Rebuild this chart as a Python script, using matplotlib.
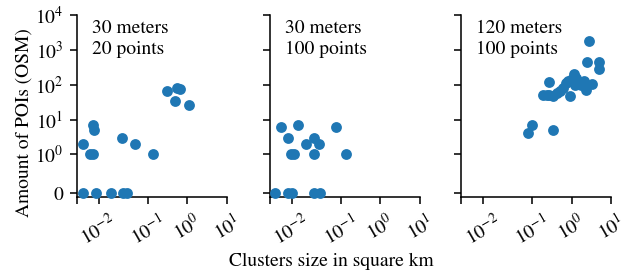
import matplotlib
matplotlib.use("Agg")
import matplotlib.pyplot as plt

plt.rcParams['font.family'] = ['STIXGeneral', 'Liberation Serif', 'DejaVu Serif']
plt.rcParams['mathtext.fontset'] = 'stix'
plt.rcParams['font.size'] = 10

# ---- data (cluster size in km^2, amount of POIs) ----
titles = ["30 meters\n20 points", "30 meters\n100 points", "120 meters\n100 points"]

size_30m_20p = [0.0029, 0.0072, 0.0078, 0.0060, 0.0075, 0.0215, 0.046, 0.129,
                0.294, 0.54, 0.65, 0.47, 1.11,
                0.0029, 0.0087, 0.0156, 0.0232, 0.0284]
pois_30m_20p = [2, 7, 5, 1, 1, 3, 2, 1,
                66, 78, 73, 34, 27,
                0, 0, 0, 0, 0]

size_30m_100p = [0.0052, 0.0128, 0.0082, 0.0098, 0.0112, 0.0166, 0.0201, 0.0268,
                 0.0201, 0.0752, 0.130,
                 0.0024, 0.0082, 0.0100, 0.0201, 0.0295]
pois_30m_100p = [6, 7, 3, 1, 1, 2, 3, 2,
                 1, 6, 1,
                 0, 0, 0, 0, 0]

size_120m_100p = [0.077, 0.10, 0.34, 0.26, 0.19, 0.23, 0.27, 0.33, 0.42, 0.50,
                  0.60, 0.70, 0.80, 0.90, 1.00, 1.13, 1.30, 1.20, 1.50, 1.70,
                  2.00, 2.30, 3.30, 2.50, 2.70, 5.00, 5.00]
pois_120m_100p = [4, 7, 5, 123, 50, 52, 50, 48, 58, 68,
                  80, 110, 130, 48, 150, 200, 160, 95, 120, 100,
                  130, 70, 108, 450, 1820, 450, 290]

sizes = [size_30m_20p, size_30m_100p, size_120m_100p]
pois = [pois_30m_20p, pois_30m_100p, pois_120m_100p]

x_ticks = [0, 1e-2, 1e-1, 1e0, 1e1]
x_ticklabels = ['', r'$10^{-2}$', r'$10^{-1}$', r'$10^{0}$', r'$10^{1}$']
y_ticks = [0, 1, 10, 100, 1000, 10000]
y_ticklabels = ['0', r'$10^{0}$', r'$10^{1}$', r'$10^{2}$', r'$10^{3}$', r'$10^{4}$']

W, H = 636, 274
fig = plt.figure(figsize=(W / 140, H / 140), dpi=140)

lefts = [77, 270, 461.3]
ax_w = 149.8
ax_top, ax_bot = 15, 197

for i, (xs, ys, t) in enumerate(zip(sizes, pois, titles)):
    ax = fig.add_axes([lefts[i] / W, 1 - ax_bot / H, ax_w / W, (ax_bot - ax_top) / H])
    ax.scatter(xs, ys, s=31, color='#1f77b4', linewidths=0, zorder=3, clip_on=False)
    ax.set_xscale('symlog', linthresh=0.02)
    ax.set_yscale('symlog', linthresh=1)
    ax.set_xlim(0, 10)
    ax.set_ylim(-0.1, 1e4)
    ax.set_xticks(x_ticks)
    ax.set_xticklabels(x_ticklabels, rotation=30)
    ax.set_yticks(y_ticks)
    if i == 0:
        ax.set_yticklabels(y_ticklabels)
    else:
        ax.set_yticklabels([])
    ax.minorticks_off()
    ax.spines['top'].set_visible(False)
    ax.spines['right'].set_visible(False)
    ax.tick_params(labelsize=10)
    ax.text(0.1, 0.972, t, transform=ax.transAxes, ha='left', va='top', fontsize=10,
            linespacing=1.3)

fig.text(331.7 / W, 1 - 261.7 / H, 'Clusters size in square km', ha='center', va='center',
         fontsize=10)
fig.text(24 / W, 1 - 122.5 / H, 'Amount of POIs (OSM)', ha='center', va='center',
         rotation=90, fontsize=10)

fig.savefig('out.png', dpi=140)
